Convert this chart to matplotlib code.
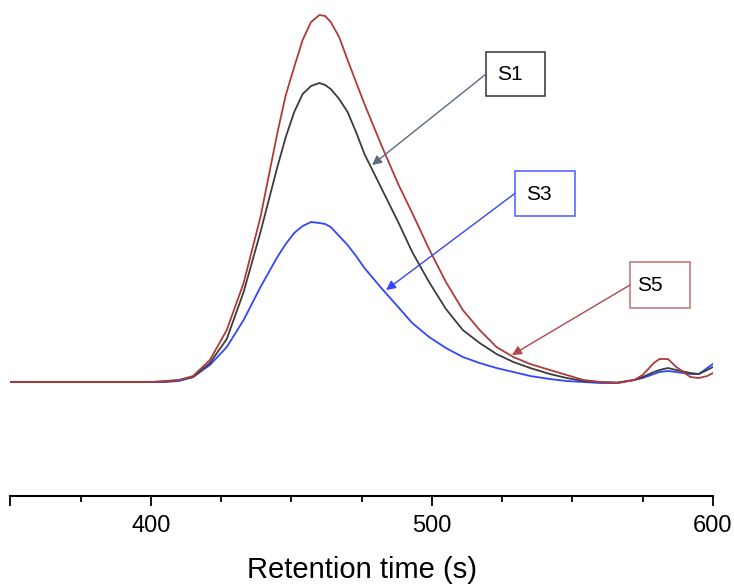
import matplotlib.pyplot as plt
from matplotlib.patches import Rectangle

plt.rcParams["font.family"] = ["Liberation Sans", "DejaVu Sans"]

# retention time (s) and detector signal (arbitrary units, baseline = 0)
time = [350, 360, 370, 380, 390, 400, 405, 410, 415, 421, 427, 433, 439, 445,
        448, 451, 454, 457, 460, 462, 464, 467, 470, 473, 476, 482, 488, 493,
        499, 505, 511, 517, 523, 529, 535, 542, 548, 554, 560, 566, 572, 575,
        579, 581, 584, 587, 592, 595, 598, 600]
s5 = [0, 0, 0, 0, 0, 0, 1, 2, 6, 22, 52, 99, 165, 249,
      287, 315, 342, 360, 367, 366, 360, 345, 322, 300, 278, 237, 198, 169,
      133, 100, 72, 52, 35, 25, 18, 12, 7, 2, 0, -1, 2, 7,
      19, 23, 23, 15, 5, 4, 6, 9]
s1 = [0, 0, 0, 0, 0, 0, 0.5, 2, 5, 19, 43, 90, 150, 215,
      245, 270, 288, 296, 299, 297, 293, 283, 270, 250, 228, 194, 160, 130,
      100, 73, 52, 39, 28, 20, 14, 8, 4, 1, 0, -0.5, 2, 5,
      10, 12, 14, 12, 9, 8, 12, 15]
s3 = [0, 0, 0, 0, 0, 0, 0, 1, 5, 17, 35, 62, 95, 125,
      138, 149, 156, 160, 159, 158, 155, 146, 137, 126, 114, 94, 75, 59,
      45, 34, 25, 19, 14, 10, 6, 3, 1, 0, -1, -1, 2, 4,
      8, 10, 11, 10, 8, 8, 14, 18]

labels = ["S1", "S3", "S5"]
colors = {"S1": "#3c3c3c", "S3": "#3344ff", "S5": "#b03a3a"}
box_colors = {"S1": "#333333", "S3": "#4a5cff", "S5": "#c07272"}
arrow_colors = {"S1": "#5a6a80", "S3": "#3344ff", "S5": "#b04848"}

fig = plt.figure(figsize=(7.34, 5.87), dpi=100)
ax = fig.add_axes([0.0142, 0.155, 0.957, 0.845])

ax.plot(time, s3, color=colors["S3"], lw=1.3)
ax.plot(time, s1, color=colors["S1"], lw=1.3)
ax.plot(time, s5, color=colors["S5"], lw=1.3)

ax.set_xlim(350, 600)
ax.set_ylim(-114, 382)

# label boxes: (x0, x1, y0, y1), text anchor, arrow target
boxes = {
    "S1": ((519.3, 540.3, 286, 330), (523.2, 308), (478.7, 217)),
    "S3": ((529.5, 550.9, 166, 211), (533.5, 188), (483.7, 92)),
    "S5": ((570.5, 591.8, 74, 120), (573.0, 97), (528.5, 27)),
}
for name in labels:
    (x0, x1, y0, y1), (tx, ty), tip = boxes[name]
    ax.add_patch(Rectangle((x0, y0), x1 - x0, y1 - y0, fill=False,
                           ec=box_colors[name], lw=1.1))
    ax.text(tx, ty, name, fontsize=15, ha="left", va="center")
    ax.annotate("", xy=tip, xytext=(x0, (y0 + y1) / 2),
                arrowprops=dict(arrowstyle="-|>", color=arrow_colors[name],
                                lw=1.0, mutation_scale=14,
                                shrinkA=0, shrinkB=0))

for side in ["left", "right", "top"]:
    ax.spines[side].set_visible(False)
ax.spines["bottom"].set_linewidth(1.5)
ax.set_yticks([])
ax.set_xticks([350, 400, 500, 600])
ax.set_xticklabels(["", "400", "500", "600"])
ax.set_xticks([375, 425, 450, 475, 525, 550, 575], minor=True)
ax.tick_params(axis="x", which="major", length=7.5, width=1.3,
               labelsize=17, pad=6)
ax.tick_params(axis="x", which="minor", length=4, width=1.3)
ax.set_xlabel("Retention time (s)", fontsize=21, labelpad=14)

fig.savefig("out.png", dpi=100)
